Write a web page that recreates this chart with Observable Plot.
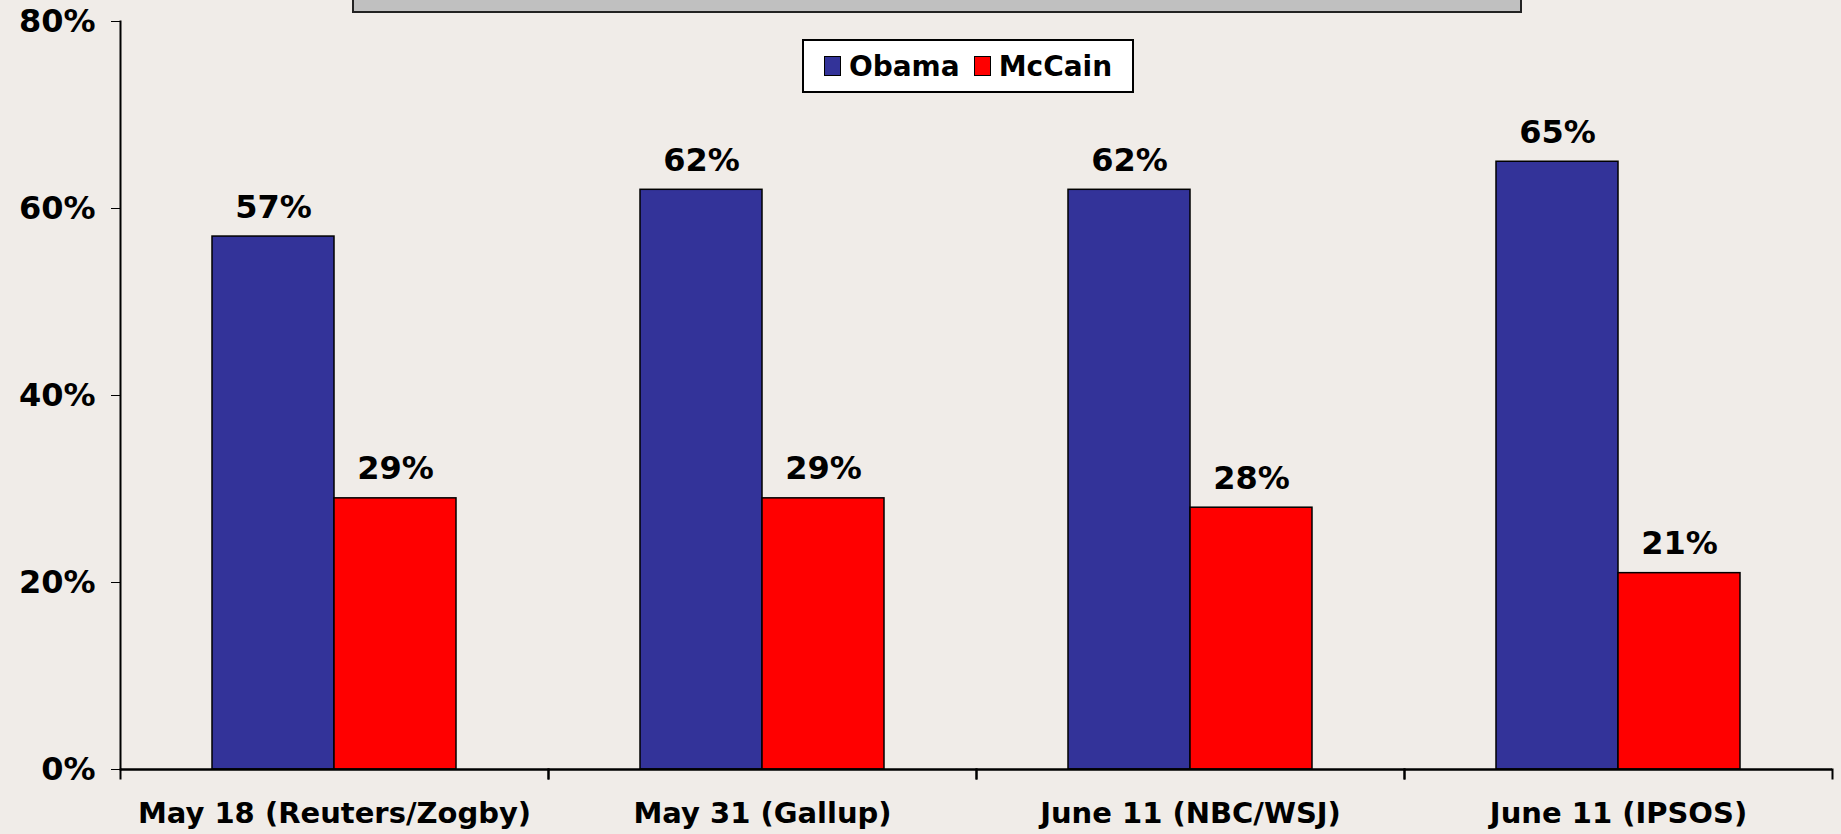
<!DOCTYPE html>
<html>
<head>
<meta charset="utf-8">
<script src="https://cdn.jsdelivr.net/npm/d3@7"></script>
<script src="https://cdn.jsdelivr.net/npm/@observablehq/plot@0.6"></script>
<style>
  html, body { margin: 0; padding: 0; background: #f0ece8; overflow: hidden; }
  #wrap { position: relative; width: 1841px; height: 834px; }
  #titlebox { position: absolute; left: 352px; top: -3px; width: 1166px; height: 12px; background: #c0c0c0; border: 2px solid #222; }
  #legend { position: absolute; left: 802px; top: 39px; width: 328px; height: 50px; background: #fff; border: 2px solid #000;
            display: flex; align-items: center; justify-content: center; gap: 14px;
            font-family: "DejaVu Sans", Verdana, sans-serif; font-weight: bold; font-size: 28px; color: #000; }
  #legend .item { display: flex; align-items: center; gap: 8px; }
  #legend .sw { width: 15px; height: 18px; border: 1.5px solid #000; }
  .fxlab text { font-size: 29px; }
</style>
</head>
<body>
<div id="wrap">
  <div id="chart"></div>
  <div id="titlebox"></div>
  <div id="legend"></div>
</div>
<script>
const categories = ["May 18 (Reuters/Zogby)", "May 31 (Gallup)", "June 11 (NBC/WSJ)", "June 11 (IPSOS)"];
const series = ["Obama", "McCain"];
const obama = [57, 62, 62, 65];
const mccain = [29, 29, 28, 21];
const colors = ["#333399", "#ff0000"];
const yTicks = [0, 20, 40, 60, 80];

const data = categories.flatMap((c, i) => [
  {poll: c, cand: series[0], v: obama[i]},
  {poll: c, cand: series[1], v: mccain[i]}
]);

const W = 1841, H = 834, mL = 120, mR = 9, mT = 21, mB = 65;
const plotH = H - mT - mB;

const chart = Plot.plot({
  width: W, height: H,
  marginLeft: mL, marginRight: mR, marginTop: mT, marginBottom: mB,
  style: {background: "transparent", fontFamily: "DejaVu Sans, Verdana, sans-serif", fontWeight: "bold", fontSize: "32px", color: "#000", overflow: "visible"},
  fx: {domain: categories, padding: 0, label: null, axis: null},
  x: {domain: series, paddingInner: 0, paddingOuter: 0.74, axis: null},
  y: {domain: [0, 80], ticks: yTicks, tickFormat: d => d + "%", tickSize: 9, tickPadding: 16, label: null},
  color: {domain: series, range: colors},
  marks: [
    Plot.axisFx({domain: categories, anchor: "bottom", tickSize: 0, tickPadding: 33, label: null, fontSize: 29, className: "fxlab"}),
    Plot.barY(data, {fx: "poll", x: "cand", y: "v", fill: "cand", stroke: "#000", strokeWidth: 1.5}),
    Plot.text(data, {fx: "poll", x: "cand", y: "v", text: d => d.v + "%", dy: -19, lineAnchor: "bottom", fontSize: 32}),
    Plot.ruleY([0], {stroke: "#000", strokeWidth: 2.5}),
    Plot.frame({anchor: "left", facet: "super", stroke: "#000", strokeWidth: 2}),
    Plot.frame({anchor: "left", insetTop: plotH, insetBottom: -9, stroke: "#000", strokeWidth: 2}),
    Plot.frame({anchor: "right", insetTop: plotH, insetBottom: -9, stroke: "#000", strokeWidth: 2})
  ]
});
document.getElementById("chart").appendChild(chart);

const lg = document.getElementById("legend");
series.forEach((s, i) => {
  const it = document.createElement("div");
  it.className = "item";
  const sw = document.createElement("div");
  sw.className = "sw";
  sw.style.background = colors[i];
  const t = document.createElement("span");
  t.textContent = s;
  it.appendChild(sw); it.appendChild(t);
  lg.appendChild(it);
});
</script>
</body>
</html>
